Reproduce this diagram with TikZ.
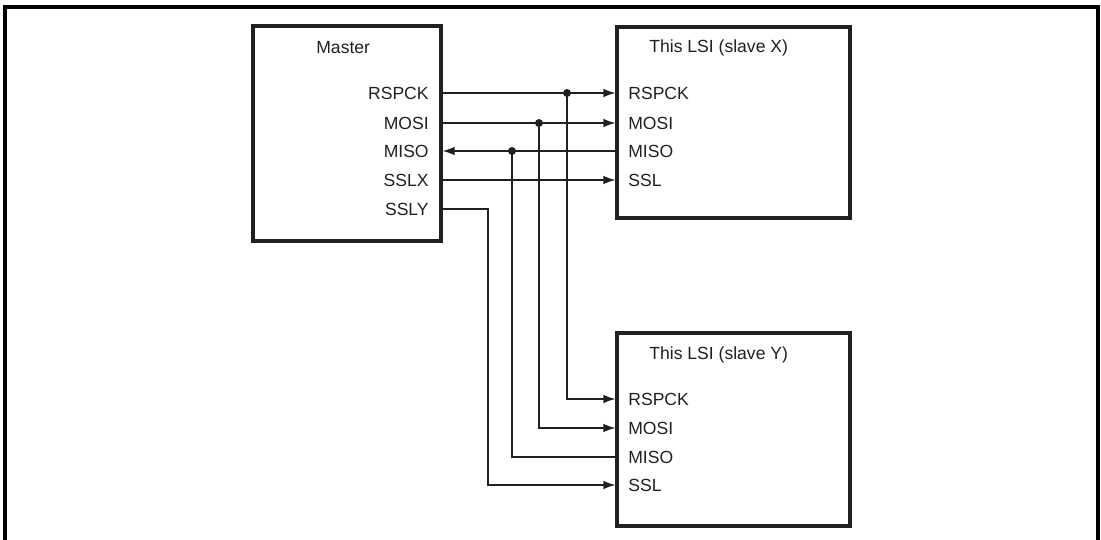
\documentclass[tikz,border=0pt]{standalone}
\usepackage{fontspec}
\setmainfont{Liberation Sans}
\usetikzlibrary{arrows.meta,positioning,calc}
\definecolor{ink}{HTML}{231F20}
\tikzset{blockbox/.style={draw=ink,line width=1.8pt,inner sep=0pt}, boxtitle/.style={font=\fontsize{10}{12}\selectfont,text=ink,inner sep=0pt,anchor=west}, pinlabel/.style={font=\fontsize{10}{12}\selectfont,text=ink,inner sep=0pt}, sigline/.style={draw=ink,line width=.7pt}, sigarrow/.style={sigline,-{Latex[length=2.4mm,width=1.7mm]}}, junction/.style={circle,fill=ink,inner sep=0pt,minimum size=1.6mm}, frameline/.style={draw=black,line width=1.8pt}}

\begin{document}
\begin{tikzpicture}[x=0.02cm,y=-0.02cm]
\useasboundingbox (0,0) rectangle (1101,540);
\draw[frameline] (5,541) -- (5,7) -- (1098,7) -- (1098,541);
\node[blockbox,minimum width=3.76cm,minimum height=4.3cm] (master) at (347,133.5) {};
\node[boxtitle] (mastertitle) at (316,48) {Master};
\node[blockbox,minimum width=4.66cm,minimum height=3.82cm] (slavex) at (733.5,122.5) {};
\node[boxtitle] (slavextitle) at (649,48) {This LSI (slave X)};
\node[blockbox,minimum width=4.66cm,minimum height=3.86cm] (slavey) at (733.5,429.5) {};
\node[boxtitle] (slaveytitle) at (649,355) {This LSI (slave Y)};
\foreach \sig/\y in {RSPCK/93,MOSI/123,MISO/151,SSLX/180,SSLY/209}
 \node[pinlabel,anchor=east] (m-\sig) at (429,\y) {\sig};
\foreach \sig/\y in {RSPCK/93,MOSI/123,MISO/151,SSL/180}
 \node[pinlabel,anchor=west] (x-\sig) at (628,\y) {\sig};
\foreach \sig/\y in {RSPCK/399,MOSI/428,MISO/457,SSL/485}
 \node[pinlabel,anchor=west] (y-\sig) at (628,\y) {\sig};
\draw[sigarrow] (m-RSPCK -| master.east) -- (x-RSPCK -| slavex.west);
\draw[sigarrow] (m-MOSI -| master.east) -- (x-MOSI -| slavex.west);
\draw[sigarrow] (x-MISO -| slavex.west) -- (m-MISO -| master.east);
\draw[sigarrow] (m-SSLX -| master.east) -- (x-SSL -| slavex.west);
\foreach \sig/\x in {RSPCK/567,MOSI/539,MISO/512}
 \node[junction] (j-\sig) at (m-\sig -| \x,0) {};
\draw[sigarrow] (j-RSPCK.center) |- (y-RSPCK -| slavey.west);
\draw[sigarrow] (j-MOSI.center) |- (y-MOSI -| slavey.west);
\draw[sigline] (j-MISO.center) |- (y-MISO -| slavey.west);
\coordinate (ssly-bend) at (m-SSLY -| 488,0);
\draw[sigarrow] (m-SSLY -| master.east) -- (ssly-bend) |- (y-SSL -| slavey.west);
\end{tikzpicture}
\end{document}
